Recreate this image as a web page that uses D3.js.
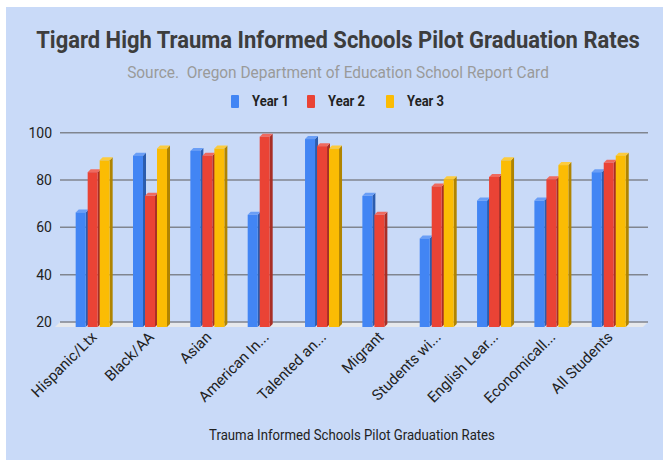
<!DOCTYPE html>
<html>
<head>
<meta charset="utf-8">
<script src="https://cdn.jsdelivr.net/npm/d3@7"></script>
<style>
  body { margin: 0; background: #fff; }
  text { font-family: Roboto, "Noto Sans", sans-serif; }
</style>
</head>
<body>
<svg width="663" height="460"></svg>
<script>
// data
var categories = ["Hispanic/Ltx", "Black/AA", "Asian", "American In...", "Talented an...",
                  "Migrant", "Students wi...", "English Lear...", "Economicall...", "All Students"];
var seriesNames = ["Year 1", "Year 2", "Year 3"];
var year1 = [68, 92, 94, 67, 99, 75, 57, 73, 73, 85];
var year2 = [85, 75, 92, 100, 96, 67, 79, 83, 82, 89];
var year3 = [90, 95, 95, null, 95, null, 82, 90, 88, 92];
var yTicks = [20, 40, 60, 80, 100];

var colors = ["#4285f4", "#ea4335", "#fbbc04"],
    sideColors = ["#2b5cae", "#a82e25", "#b08400"],
    topColors = ["#6a9ef6", "#ef6a5f", "#fccb3d"];

var svg = d3.select("svg");

// background
svg.append("rect").attr("x", 6).attr("y", 7).attr("width", 657).attr("height", 453).attr("fill", "#c9daf8");

var depth = 5, barDepth = 3;
var y = d3.scaleLinear().domain([20, 100]).range([322, 132.7]);
var x = d3.scaleBand().domain(categories).range([64, 637.4]);
var xs = d3.scaleBand().domain(seriesNames).range([-17, 19]);

// squeeze a text horizontally so it spans `w` px, centred on cx
function condensed(t, cx, cy, w) {
  var len = t.node().getComputedTextLength();
  var k = Math.min(1, w / len);
  t.attr("text-anchor", "middle")
   .attr("transform", "translate(" + cx + "," + cy + ") scale(" + k + ",1)");
}

// title + subtitle
var title = svg.append("text")
    .style("font-size", "24px").style("font-weight", "bold").style("fill", "#3d3d3d")
    .text("Tigard High Trauma Informed Schools Pilot Graduation Rates");
condensed(title, 338, 48, 604);

var sub = svg.append("text")
    .style("font-size", "16px").style("fill", "#9a9a9a").style("white-space", "pre")
    .text("Source.  Oregon Department of Education School Report Card");
condensed(sub, 338, 78, 422);

// legend
var legendX = [231, 307, 386];
seriesNames.forEach(function (s, i) {
  svg.append("rect").attr("x", legendX[i]).attr("y", 95).attr("width", 8).attr("height", 13)
      .attr("rx", 1).attr("fill", colors[i]);
  var lt = svg.append("text")
      .style("font-size", "14px").style("font-weight", "bold").style("fill", "#222")
      .text(s);
  condensed(lt, legendX[i] + 39.5, 106, 37);
});

// floor
var x0 = 60, x1 = 648;
svg.append("polygon")
    .attr("points", [[x0, y(20)], [x1, y(20)], [x1 - depth, y(20) + depth], [x0 - depth, y(20) + depth]].join(" "))
    .attr("fill", "#e6e8ec");

// gridlines + y labels
yTicks.forEach(function (t) {
  svg.append("line").attr("x1", x0).attr("x2", x1).attr("y1", y(t)).attr("y2", y(t))
      .attr("stroke", "#80858f").attr("stroke-width", 1.5);
  svg.append("text").attr("x", 52).attr("y", y(t) + 5)
      .attr("text-anchor", "end")
      .style("font-size", "14px").style("fill", "#222")
      .text(t);
});

// bars
var seriesData = [year1, year2, year3];
var base = y(20) + depth;
categories.forEach(function (c, ci) {
  var cx = x(c) + x.bandwidth() / 2;
  seriesNames.forEach(function (s, si) {
    var v = seriesData[si][ci];
    if (v == null) return;
    var bx = cx + xs(s), bw = 10, top = y(v) + 4, d = barDepth;
    var g = svg.append("g");
    g.append("polygon")
        .attr("points", [[bx + bw, top], [bx + bw + d, top - d], [bx + bw + d, base - d], [bx + bw, base]].join(" "))
        .attr("fill", sideColors[si]);
    g.append("polygon")
        .attr("points", [[bx, top], [bx + d, top - d], [bx + bw + d, top - d], [bx + bw, top]].join(" "))
        .attr("fill", topColors[si]);
    g.append("rect").attr("x", bx).attr("y", top).attr("width", bw).attr("height", base - top)
        .attr("fill", colors[si]);
  });
});

// x labels
categories.forEach(function (c) {
  var cx = x(c) + x.bandwidth() / 2 + 5;
  svg.append("text")
      .attr("transform", "translate(" + cx + ",338) rotate(-45)")
      .attr("text-anchor", "end")
      .style("font-size", "15px").style("fill", "#222")
      .text(c);
});

// axis title
var at = svg.append("text")
    .style("font-size", "15px").style("fill", "#222")
    .text("Trauma Informed Schools Pilot Graduation Rates");
condensed(at, 352, 440, 286);
</script>
</body>
</html>
